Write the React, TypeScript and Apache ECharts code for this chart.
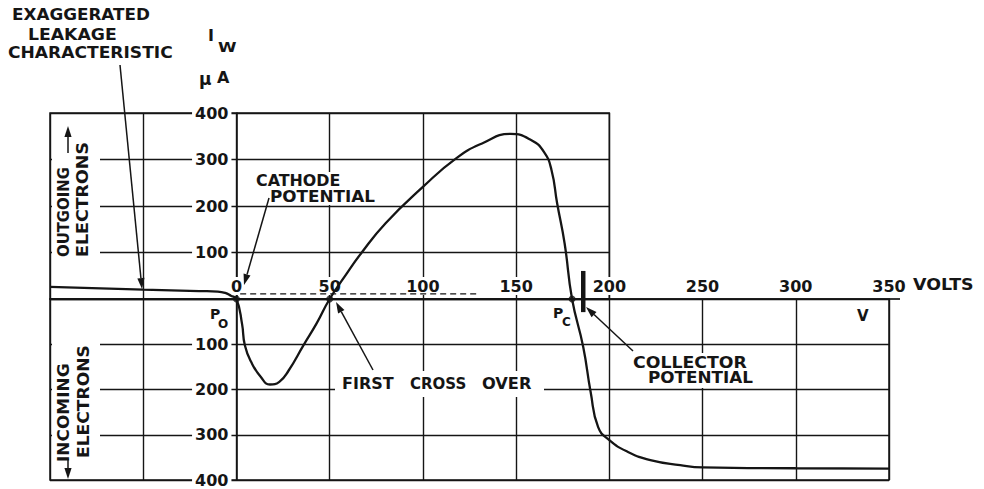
import React, { useEffect, useRef } from "react";
import * as echarts from "echarts";

// ---- data (volts V, microamps I_W) ----
const curveVolts = [-100, -50, -20, -10, -6, -3, 0, 3, 4.5, 8, 13, 18, 23, 28, 36, 43, 50, 58, 67, 80, 100, 118, 132, 147, 158, 165, 169, 172, 176, 180, 186, 190, 194, 200, 210, 222, 238, 250, 300, 350];
const curveMicroamps = [26, 20, 17, 16, 13, 7, 0, -55, -102, -140, -172, -189, -183, -158, -102, -54, 0, 48, 99, 163, 241, 303, 335, 355, 342, 316, 277, 206, 120, 0, -106, -206, -283, -312, -338, -356, -367, -372, -374, -375];
const leakLevelVolts = [2, 130];
const leakLevelMicroamps = [11, 11];
const crossingVolts = [0, 50, 180]; // P0, first cross over, Pc
const collectorVolts = 186;
const collectorSpan = [62, -29];
const voltRangeUpper = [-100, 200];
const voltRangeLower = [-100, 350];

const INK = "#151515";
const FONT = "DejaVu Sans";

const curve = curveVolts.map((v, i) => [v, curveMicroamps[i]]);
const leakLevel = leakLevelVolts.map((v, i) => [v, leakLevelMicroamps[i]]);
const crossings = crossingVolts.map((v) => [v, 0]);
const collectorBar = collectorSpan.map((i) => [collectorVolts, i]);

const GRID_LEFT = 50;
const GRID_W_LOWER = 839;
const PX_PER_VOLT = GRID_W_LOWER / (voltRangeLower[1] - voltRangeLower[0]);
const GRID_W_UPPER = PX_PER_VOLT * (voltRangeUpper[1] - voltRangeUpper[0]);
const Y_AXIS_OFFSET = -PX_PER_VOLT * (0 - voltRangeLower[0]);

const rich = {
  a: {
    backgroundColor: "#fff",
    padding: [1, 3],
    color: INK,
    fontFamily: FONT,
    fontWeight: "bold",
    fontSize: 16,
  },
};

function txt(text: string, x: number, y: number, o: any = {}) {
  return {
    type: "text",
    x,
    y,
    z: 100,
    scaleX: o.sx ?? 1,
    rotation: o.rot ?? 0,
    style: {
      text,
      font: `bold ${o.fs ?? 15}px "${FONT}"`,
      fill: INK,
      align: "left",
      verticalAlign: "middle",
    },
  };
}

function whiteRect(x1: number, y1: number, x2: number, y2: number) {
  return {
    type: "rect",
    z: 90,
    shape: { x: x1, y: y1, width: x2 - x1, height: y2 - y1 },
    style: { fill: "#fff" },
  };
}

function arrow(x1: number, y1: number, x2: number, y2: number, head = 11, hw = 3.6) {
  const dx = x2 - x1;
  const dy = y2 - y1;
  const L = Math.hypot(dx, dy);
  const ux = dx / L;
  const uy = dy / L;
  const bx = x2 - ux * head;
  const by = y2 - uy * head;
  const px = -uy;
  const py = ux;
  return [
    { type: "line", z: 100, shape: { x1, y1, x2: bx, y2: by }, style: { stroke: INK, lineWidth: 1.5 } },
    {
      type: "polygon",
      z: 100,
      shape: { points: [[x2, y2], [bx + px * hw, by + py * hw], [bx - px * hw, by - py * hw]] },
      style: { fill: INK },
    },
  ];
}

export default function App() {
  const ref = useRef<HTMLDivElement>(null);
  useEffect(() => {
    if (!ref.current) return;
    const chart = echarts.init(ref.current, null, { renderer: "svg" });
    const gridLine = { show: true, lineStyle: { color: INK, width: 1.4 } };
    const curveSeries = (idx: number) => ({
      type: "line",
      xAxisIndex: idx,
      yAxisIndex: idx,
      data: curve,
      smooth: 0.5,
      showSymbol: false,
      clip: true,
      lineStyle: { color: INK, width: 2.3 },
      z: 3,
    });
    const option: any = {
      animation: false,
      backgroundColor: "#fff",
      grid: [
        { left: GRID_LEFT, top: 113, width: GRID_W_UPPER, height: 186, show: true, borderColor: INK, borderWidth: 1.5, z: 0 },
        { left: GRID_LEFT, top: 299, width: GRID_W_LOWER, height: 181, show: true, borderColor: INK, borderWidth: 1.5, z: 0 },
      ],
      xAxis: [
        {
          gridIndex: 0,
          type: "value",
          min: voltRangeUpper[0],
          max: voltRangeUpper[1],
          interval: 50,
          axisLine: { show: false, onZero: false },
          axisTick: { show: false },
          axisLabel: { show: false },
          splitLine: gridLine,
          z: 0,
        },
        {
          gridIndex: 1,
          type: "value",
          min: voltRangeLower[0],
          max: voltRangeLower[1],
          interval: 50,
          position: "top",
          axisLine: { show: true, onZero: false, lineStyle: { color: INK, width: 1.7 } },
          axisTick: { show: false },
          axisLabel: {
            show: true,
            margin: 4,
            showMinLabel: true,
            showMaxLabel: true,
            formatter: (v: number) => (v < 0 ? "" : `{a|${v}}`),
            rich,
          },
          splitLine: gridLine,
          z: 1,
        },
      ],
      yAxis: [
        {
          gridIndex: 0,
          type: "value",
          min: 0,
          max: 400,
          interval: 100,
          position: "left",
          offset: Y_AXIS_OFFSET,
          axisLine: { show: true, onZero: false, lineStyle: { color: INK, width: 1.6 } },
          axisTick: { show: false },
          axisLabel: {
            margin: 5,
            showMaxLabel: true,
            formatter: (v: number) => (v === 0 ? "" : `{a|${v}}`),
            rich,
          },
          splitLine: gridLine,
          z: 1,
        },
        {
          gridIndex: 1,
          type: "value",
          min: -400,
          max: 0,
          interval: 100,
          position: "left",
          offset: Y_AXIS_OFFSET,
          axisLine: { show: true, onZero: false, lineStyle: { color: INK, width: 1.6 } },
          axisTick: { show: false },
          axisLabel: {
            margin: 5,
            showMinLabel: true,
            formatter: (v: number) => (v === 0 ? "" : `{a|${Math.abs(v)}}`),
            rich,
          },
          splitLine: gridLine,
          z: 1,
        },
      ],
      series: [
        curveSeries(0),
        curveSeries(1),
        {
          type: "line",
          xAxisIndex: 0,
          yAxisIndex: 0,
          data: leakLevel,
          showSymbol: false,
          lineStyle: { color: INK, width: 1.4, type: [6, 4] },
          z: 3,
        },
        {
          type: "line",
          xAxisIndex: 1,
          yAxisIndex: 1,
          data: collectorBar,
          showSymbol: false,
          clip: false,
          lineStyle: { color: INK, width: 4.5, cap: "butt" },
          z: 4,
        },
        {
          type: "scatter",
          xAxisIndex: 1,
          yAxisIndex: 1,
          data: crossings,
          symbolSize: 7,
          clip: false,
          itemStyle: { color: INK },
          z: 5,
        },
      ],
      graphic: {
        elements: [
          // backgrounds that break the grid lines
          whiteRect(52, 138, 100, 262),
          whiteRect(52, 341, 100, 466),
          whiteRect(335, 371, 544, 397),
          whiteRect(628, 353, 758, 388),
          whiteRect(252, 172, 380, 205),
          // axis extension
          { type: "line", z: 100, shape: { x1: 889, y1: 299, x2: 900, y2: 299 }, style: { stroke: INK, lineWidth: 1.7 } },
          // titles & annotations
          txt("EXAGGERATED", 12, 15, { sx: 1.12 }),
          txt("LEAKAGE", 28, 35, { sx: 1.15 }),
          txt("CHARACTERISTIC", 8, 53, { sx: 1.14 }),
          txt("I", 208, 35, { fs: 16 }),
          txt("W", 218, 47, { fs: 14, sx: 1.2 }),
          txt("μ", 199, 79, { fs: 17 }),
          txt("A", 217, 77, { fs: 16 }),
          txt("CATHODE", 256, 181, { sx: 1.06 }),
          txt("POTENTIAL", 270, 197, { sx: 1.12 }),
          txt("FIRST", 342, 384, { sx: 1.07 }),
          txt("CROSS", 410, 384, { sx: 1.0 }),
          txt("OVER", 482, 384, { sx: 1.08 }),
          txt("COLLECTOR", 633, 363, { sx: 1.155 }),
          txt("POTENTIAL", 648, 378, { sx: 1.12 }),
          txt("VOLTS", 913, 285, { sx: 1.16 }),
          txt("V", 857, 316, { fs: 15 }),
          txt("P", 210, 314, { fs: 14 }),
          txt("O", 218, 324, { fs: 12 }),
          txt("P", 553, 313, { fs: 14 }),
          txt("C", 562, 322, { fs: 12 }),
          txt("OUTGOING", 64, 257, { fs: 16, sx: 0.93, rot: Math.PI / 2 }),
          txt("ELECTRONS", 82, 257, { fs: 16, sx: 1.09, rot: Math.PI / 2 }),
          txt("INCOMING", 64, 462, { fs: 16, sx: 1.06, rot: Math.PI / 2 }),
          txt("ELECTRONS", 84, 458, { fs: 16, sx: 1.07, rot: Math.PI / 2 }),
          ...arrow(120, 65, 142, 289),
          ...arrow(269, 198, 244, 285),
          ...arrow(373, 370, 336, 302),
          ...arrow(633, 351, 586, 307),
          ...arrow(68, 153, 68, 126),
          ...arrow(68, 459, 68, 479),
        ],
      },
    };
    chart.setOption(option);
    return () => chart.dispose();
  }, []);
  return (
    <div
      ref={ref}
      style={{ position: "absolute", left: 0, top: 0, width: 984, height: 489 }}
    />
  );
}
